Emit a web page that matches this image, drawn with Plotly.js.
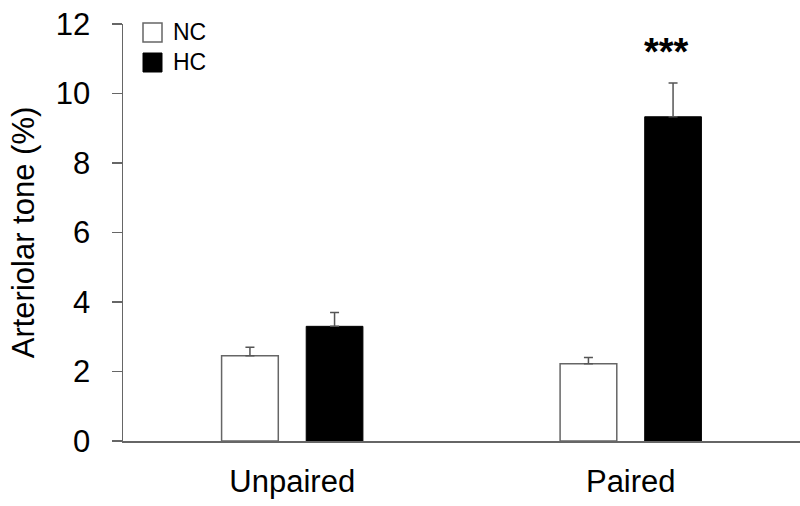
<!DOCTYPE html>
<html>
<head>
<meta charset="utf-8">
<script src="https://cdn.plot.ly/plotly-3.0.1.min.js"></script>
<style>
  html, body { margin: 0; padding: 0; background: #fff; }
  #chart { width: 800px; height: 506px; }
</style>
</head>
<body>
<div id="chart"></div>
<script>
// Arteriolar tone, NC vs HC, unpaired and paired groups
const categories = ["Unpaired", "Paired"];
const ncValues = [2.45, 2.22];
const ncErrors = [0.25, 0.18];
const hcValues = [3.30, 9.33];
const hcErrors = [0.40, 0.97];
const yTicks = [0, 2, 4, 6, 8, 10, 12];
const seriesNames = ["NC", "HC"];
const sigLabel = "***";

const FONT = "Liberation Sans, Arial, sans-serif";
const GREY = "#666666";

// plot area in pixels, used to place the hand drawn legend
const plotLeft = 123, plotTop = 24, plotW = 677, plotH = 417;
const px = x => (x - plotLeft) / plotW;
const py = y => (plotTop + plotH - y) / plotH;

const data = [
  {
    x: categories,
    y: ncValues,
    type: "bar",
    name: seriesNames[0],
    marker: { color: "#ffffff", line: { color: GREY, width: 1.5 } },
    error_y: {
      type: "data", array: ncErrors, arrayminus: [0, 0], symmetric: false,
      color: "#555555", thickness: 1.5, width: 4.5
    },
    showlegend: false
  },
  {
    x: categories,
    y: hcValues,
    type: "bar",
    name: seriesNames[1],
    marker: { color: "#000000", line: { color: "#000000", width: 1 } },
    error_y: {
      type: "data", array: hcErrors, arrayminus: [0, 0], symmetric: false,
      color: "#555555", thickness: 1.5, width: 4.5
    },
    showlegend: false
  }
];

const layout = {
  width: 800,
  height: 506,
  margin: { l: plotLeft, r: 800 - plotLeft - plotW, t: plotTop, b: 506 - plotTop - plotH },
  paper_bgcolor: "#ffffff",
  plot_bgcolor: "#ffffff",
  font: { family: FONT, color: "#000000", size: 31 },
  barmode: "group",
  bargap: 0.5,
  bargroupgap: 0.33,
  showlegend: false,
  xaxis: {
    type: "category",
    range: [-0.5, 1.5],
    showline: true,
    linecolor: GREY,
    linewidth: 1.5,
    ticks: "",
    showgrid: false,
    zeroline: false,
    ticklabelstandoff: 12,
    tickfont: { size: 31, family: FONT }
  },
  yaxis: {
    range: [0, 12],
    tickvals: yTicks,
    ticktext: yTicks.map(String),
    showline: true,
    linecolor: GREY,
    linewidth: 1.5,
    ticks: "outside",
    ticklen: 10,
    tickwidth: 1.5,
    tickcolor: GREY,
    showgrid: false,
    zeroline: false,
    ticklabelstandoff: 15,
    tickfont: { size: 31, family: FONT },
    title: { text: "Arteriolar tone (%)", font: { size: 31, family: FONT }, standoff: 12 }
  },
  shapes: [
    {
      type: "rect", xref: "paper", yref: "paper",
      x0: px(143), x1: px(162), y0: py(42), y1: py(23),
      fillcolor: "#ffffff", line: { color: GREY, width: 1.5 }
    },
    {
      type: "rect", xref: "paper", yref: "paper",
      x0: px(143), x1: px(162), y0: py(72), y1: py(53),
      fillcolor: "#000000", line: { color: "#000000", width: 1 }
    }
  ],
  annotations: [
    {
      text: seriesNames[0], xref: "paper", yref: "paper",
      x: px(171), y: py(32), xanchor: "left", yanchor: "middle",
      showarrow: false, font: { size: 23, family: FONT }
    },
    {
      text: seriesNames[1], xref: "paper", yref: "paper",
      x: px(171), y: py(62), xanchor: "left", yanchor: "middle",
      showarrow: false, font: { size: 23, family: FONT }
    },
    {
      // significance mark above the paired HC bar
      text: "<b>" + sigLabel + "</b>", xref: "x", yref: "y",
      x: categories[1], y: hcValues[1] + hcErrors[1],
      xshift: 36, yshift: 8, xanchor: "center", yanchor: "bottom",
      showarrow: false, font: { size: 38, family: FONT }
    }
  ]
};

Plotly.newPlot("chart", data, layout, { displayModeBar: false, staticPlot: true });
</script>
</body>
</html>
